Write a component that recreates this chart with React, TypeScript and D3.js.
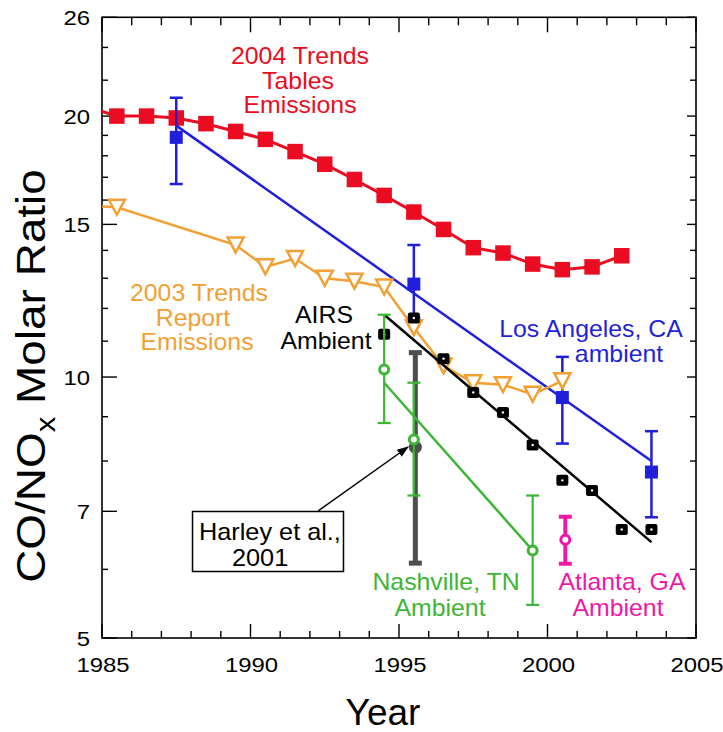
import React from "react";
import * as d3 from "d3";

// ---- data ----
const redYears = [1984.5, 1985.5, 1986.5, 1987.5, 1988.5, 1989.5, 1990.5, 1991.5, 1992.5, 1993.5, 1994.5, 1995.5, 1996.5, 1997.5, 1998.5, 1999.5, 2000.5, 2001.5, 2002.5];
const redValues = [20.5, 20.0, 20.0, 19.9, 19.6, 19.2, 18.8, 18.2, 17.6, 16.9, 16.2, 15.5, 14.8, 14.1, 13.9, 13.5, 13.3, 13.4, 13.8];

const orangeYears = [1984.5, 1985.5, 1989.5, 1990.5, 1991.5, 1992.5, 1993.5, 1994.5, 1995.5, 1996.5, 1997.5, 1998.5, 1999.5, 2000.5];
const orangeValues = [15.75, 15.7, 14.2, 13.4, 13.7, 13.0, 12.9, 12.7, 11.4, 10.3, 9.85, 9.8, 9.55, 9.9];

const laYears = [1987.5, 1995.5, 2000.5, 2003.5];
const laValues = [18.9, 12.8, 9.47, 7.77];
const laLow = [16.7, 11.7, 8.38, 6.89];
const laHigh = [21.0, 14.2, 10.55, 8.66];
const laFitYears = [1987.5, 2003.5];
const laFitValues = [19.5, 8.0];

const airsYears = [1994.5, 1995.5, 1996.5, 1997.5, 1998.5, 1999.5, 2000.5, 2001.5, 2002.5, 2003.5];
const airsValues = [11.2, 11.7, 10.5, 9.6, 9.1, 8.35, 7.6, 7.4, 6.67, 6.67];
const airsFitYears = [1994.5, 2003.5];
const airsFitValues = [11.8, 6.45];

const nashYears = [1994.5, 1995.5, 1999.5];
const nashValues = [10.2, 8.47, 6.31];
const nashLow = [8.85, 7.3, 5.46];
const nashHigh = [11.8, 9.85, 7.3];
const nashFitYears = [1994.5, 1999.5];
const nashFitValues = [9.85, 6.31];

const harleyYear = [1995.55];
const harleyValue = [8.3];
const harleyLow = [6.1];
const harleyHigh = [10.67];

const atlYear = [2000.6];
const atlValue = [6.49];
const atlLow = [6.09];
const atlHigh = [6.9];

const xMajor = [1985, 1990, 1995, 2000, 2005];
const xMinor = d3.range(1986, 2005).filter((v) => v % 5 !== 0);
const yMajor = [5, 7, 10, 15, 20, 26];
const yMinor = [6, 8, 9, 11, 12, 13, 14, 16, 17, 18, 19, 22, 24];

// ---- colours ----
const RED = "#ec0c22";
const BLUE = "#1f1fdc";
const ORANGE = "#f2a033";
const GREEN = "#3db535";
const MAGENTA = "#ef18a6";
const GRAY = "#4e4e4e";

const FONT = "'Liberation Sans', Arial, Helvetica, sans-serif";

const W = 723;
const H = 732;
const left = 102;
const right = 696;
const top = 17.3;
const bottom = 638;

const x = d3.scaleLinear().domain([1985, 2005]).range([left, right]);
const y = d3.scaleLog().domain([5, 26]).range([bottom, top]);

type Pt = [number, number];
const line = d3
  .line<Pt>()
  .x((d) => x(d[0]))
  .y((d) => y(d[1]));

const zip = (a: number[], b: number[]): Pt[] => a.map((v, i) => [v, b[i]]);

function Txt({ x: tx, y: ty, children, size = 23, fill = "#000", anchor = "middle", sx = 1.08 }: any) {
  return (
    <text
      transform={`translate(${tx},${ty}) scale(${sx},1)`}
      textAnchor={anchor}
      fontFamily={FONT}
      fontSize={size}
      fill={fill}
    >
      {children}
    </text>
  );
}

function ErrBar({ cx, lo, hi, color, width = 2.5, cap = 12 }: any) {
  const yl = y(lo);
  const yh = y(hi);
  return (
    <g stroke={color} strokeWidth={width}>
      <line x1={cx} x2={cx} y1={yl} y2={yh} />
      <line x1={cx - cap / 2} x2={cx + cap / 2} y1={yl} y2={yl} />
      <line x1={cx - cap / 2} x2={cx + cap / 2} y1={yh} y2={yh} />
    </g>
  );
}

export default function App() {
  const tri = (cx: number, cy: number) => {
    const w = 8;
    const h = 7.5;
    return `M${cx - w},${cy - h}L${cx + w},${cy - h}L${cx},${cy + h}Z`;
  };

  return (
    <svg
      width={W}
      height={H}
      style={{ position: "absolute", left: 0, top: 0, background: "#fff" }}
    >
      <defs>
        <clipPath id="plot">
          <rect x={left} y={top} width={right - left} height={bottom - top} />
        </clipPath>
        <marker id="arrowhead" viewBox="0 0 10 10" refX="9" refY="5" markerWidth="12" markerHeight="12" markerUnits="userSpaceOnUse" orient="auto">
          <path d="M0,1.5L10,5L0,8.5Z" fill="#000" />
        </marker>
      </defs>

      <rect x={0} y={0} width={W} height={H} fill="#fff" />

      {/* frame */}
      <rect x={left} y={top} width={right - left} height={bottom - top} fill="none" stroke="#000" strokeWidth={1.6} />

      {/* ticks on all four sides */}
      <g stroke="#000" strokeWidth={1.4}>
        {xMajor.map((v) => (
          <g key={"xM" + v}>
            <line x1={x(v)} x2={x(v)} y1={bottom} y2={bottom - 14} />
            <line x1={x(v)} x2={x(v)} y1={top} y2={top + 15} />
          </g>
        ))}
        {xMinor.map((v) => (
          <g key={"xm" + v}>
            <line x1={x(v)} x2={x(v)} y1={bottom} y2={bottom - 7} />
            <line x1={x(v)} x2={x(v)} y1={top} y2={top + 8} />
          </g>
        ))}
        {yMajor.map((v) => (
          <g key={"yM" + v}>
            <line x1={left} x2={left + 15} y1={y(v)} y2={y(v)} />
            <line x1={right} x2={right - 9} y1={y(v)} y2={y(v)} />
          </g>
        ))}
        {yMinor.map((v) => (
          <g key={"ym" + v}>
            <line x1={left} x2={left + 6} y1={y(v)} y2={y(v)} />
            <line x1={right} x2={right - 6} y1={y(v)} y2={y(v)} />
          </g>
        ))}
      </g>

      {/* tick labels */}
      {xMajor.map((v) => (
        <Txt key={"xl" + v} x={x(v) + 1} y={672} size={21} sx={1.14}>
          {v}
        </Txt>
      ))}
      {yMajor.map((v) => (
        <Txt key={"yl" + v} x={90} y={y(v) + 7.5} size={21} sx={1.14} anchor="end">
          {v}
        </Txt>
      ))}

      {/* axis titles */}
      <text x={383} y={725} textAnchor="middle" fontFamily={FONT} fontSize={37} fill="#000">
        Year
      </text>
      <text
        transform={`translate(45,${376}) rotate(-90) scale(1.12,1)`}
        textAnchor="middle"
        fontFamily={FONT}
        fontSize={41}
        fill="#000"
      >
        CO/NO
        <tspan fontSize={28} dy={10}>x</tspan>
        <tspan dy={-10}> Molar Ratio</tspan>
      </text>

      <g clipPath="url(#plot)">
        {/* 2004 Trends Tables emissions */}
        <path d={line(zip(redYears, redValues)) ?? ""} fill="none" stroke={RED} strokeWidth={3} />
        {redYears.map((yr, i) => (
          <rect key={"r" + i} x={x(yr) - 7.75} y={y(redValues[i]) - 7.75} width={15.5} height={15.5} fill={RED} />
        ))}

        {/* Los Angeles */}
        <path d={line(zip(laFitYears, laFitValues)) ?? ""} fill="none" stroke={BLUE} strokeWidth={2.5} />
        {laYears.map((yr, i) => (
          <g key={"la" + i}>
            <ErrBar cx={x(yr)} lo={laLow[i]} hi={laHigh[i]} color={BLUE} width={2.5} cap={13} />
            <rect x={x(yr) - 6.5} y={y(laValues[i]) - 6.5} width={13} height={13} fill={BLUE} />
          </g>
        ))}

        {/* 2003 Trends Report emissions */}
        <path d={line(zip(orangeYears, orangeValues)) ?? ""} fill="none" stroke={ORANGE} strokeWidth={2.5} />
        {orangeYears.map((yr, i) => (
          <path key={"o" + i} d={tri(x(yr), y(orangeValues[i]))} fill="#fff" stroke={ORANGE} strokeWidth={2.5} strokeLinejoin="miter" />
        ))}

        {/* AIRS ambient */}
        <path d={line(zip(airsFitYears, airsFitValues)) ?? ""} fill="none" stroke="#000" strokeWidth={2.5} />
        {airsYears.map((yr, i) => {
          const cx = x(yr);
          const cy = y(airsValues[i]);
          return (
            <g key={"a" + i}>
              <rect x={cx - 6} y={cy - 5.5} width={12} height={11} rx={2} fill="#000" />
              <circle cx={cx} cy={cy} r={1.2} fill="#fff" />
            </g>
          );
        })}

        {/* Harley et al. */}
        {harleyYear.map((yr, i) => (
          <g key={"h" + i}>
            <ErrBar cx={x(yr)} lo={harleyLow[i]} hi={harleyHigh[i]} color={GRAY} width={5} cap={13} />
            <circle cx={x(yr)} cy={y(harleyValue[i])} r={6.5} fill={GRAY} />
          </g>
        ))}

        {/* Nashville */}
        <path d={line(zip(nashFitYears, nashFitValues)) ?? ""} fill="none" stroke={GREEN} strokeWidth={2.5} />
        {nashYears.map((yr, i) => (
          <g key={"n" + i}>
            <ErrBar cx={x(yr)} lo={nashLow[i]} hi={nashHigh[i]} color={GREEN} width={2.2} cap={13} />
            <circle cx={x(yr)} cy={y(nashValues[i])} r={4.5} fill="#fff" stroke={GREEN} strokeWidth={3} />
          </g>
        ))}

        {/* Atlanta */}
        {atlYear.map((yr, i) => (
          <g key={"at" + i}>
            <ErrBar cx={x(yr)} lo={atlLow[i]} hi={atlHigh[i]} color={MAGENTA} width={4} cap={13} />
            <circle cx={x(yr)} cy={y(atlValue[i])} r={4.5} fill="#fff" stroke={MAGENTA} strokeWidth={3} />
          </g>
        ))}
      </g>

      {/* annotations */}
      <g>
        <Txt x={300} y={64} fill={RED}>2004 Trends</Txt>
        <Txt x={298} y={89} fill={RED}>Tables</Txt>
        <Txt x={300} y={113} fill={RED}>Emissions</Txt>

        <Txt x={199} y={301} fill={ORANGE}>2003 Trends</Txt>
        <Txt x={193} y={326} fill={ORANGE}>Report</Txt>
        <Txt x={197} y={350} fill={ORANGE}>Emissions</Txt>

        <Txt x={324} y={323}>AIRS</Txt>
        <Txt x={326} y={349}>Ambient</Txt>

        <Txt x={591} y={337} fill={BLUE}>Los Angeles, CA</Txt>
        <Txt x={619} y={362} fill={BLUE}>ambient</Txt>

        <Txt x={446} y={590} fill={GREEN}>Nashville, TN</Txt>
        <Txt x={440} y={616} fill={GREEN}>Ambient</Txt>

        <Txt x={622} y={590} fill={MAGENTA}>Atlanta, GA</Txt>
        <Txt x={618} y={616} fill={MAGENTA}>Ambient</Txt>

        <line x1={318} y1={511} x2={408} y2={447} stroke="#000" strokeWidth={1.5} markerEnd="url(#arrowhead)" />
        <rect x={192.5} y={511.5} width={151} height={60} fill="#fff" stroke="#000" strokeWidth={1.5} />
        <Txt x={199} y={540} size={23} anchor="start" sx={1.1}>Harley et al.,</Txt>
        <Txt x={232} y={566} size={23} anchor="start" sx={1.1}>2001</Txt>
      </g>
    </svg>
  );
}
